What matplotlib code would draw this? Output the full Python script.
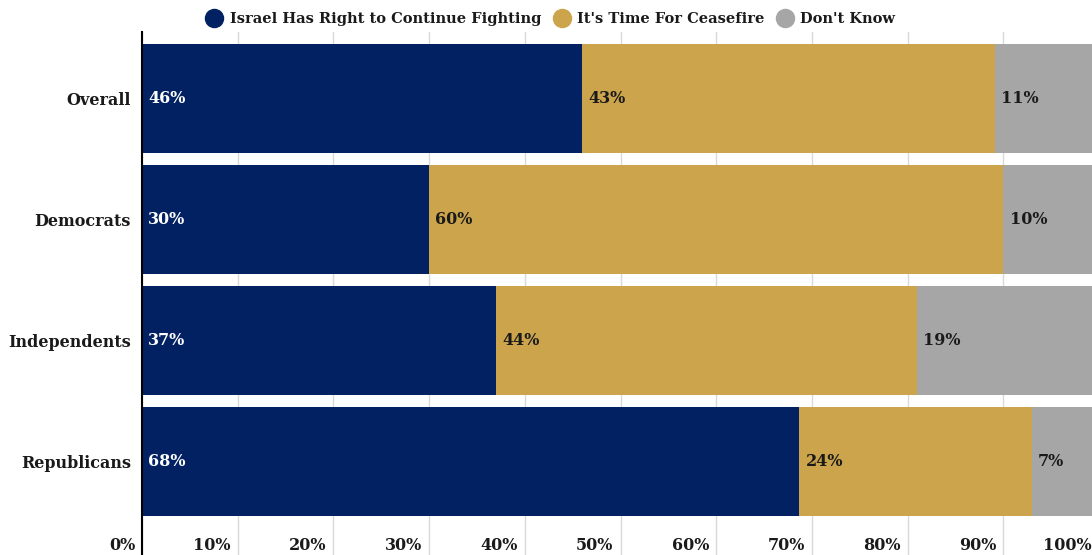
import matplotlib.pyplot as plt
from matplotlib.lines import Line2D
from matplotlib import transforms

groups = ['Overall', 'Democrats', 'Independents', 'Republicans']
series = ['Israel Has Right to Continue Fighting', "It's Time For Ceasefire", "Don't Know"]
fighting = [46, 30, 37, 68.7]
ceasefire = [43.1, 60, 44, 24.3]
dont_know = [10.9, 10, 19, 7.0]
fighting_lbl = ['46%', '30%', '37%', '68%']
ceasefire_lbl = ['43%', '60%', '44%', '24%']
dont_know_lbl = ['11%', '10%', '19%', '7%']
xticks = [0, 10, 20, 30, 40, 50, 60, 70, 80, 90, 100]

colors = ['#022163', '#CBA44B', '#A6A6A6']
text_colors = ['white', '#1a1a1a', '#1a1a1a']

plt.rcParams['font.family'] = ['DejaVu Serif']
plt.rcParams['font.weight'] = 'bold'

W, H = 1092, 555
fig = plt.figure(figsize=(W / 100, H / 100), dpi=100)
ax = fig.add_axes([142 / W, 0, (1099 - 142) / W, (H - 32) / H])

y = range(len(groups))
left = [0] * len(groups)
for vals, lbls, c, tc in zip([fighting, ceasefire, dont_know],
                             [fighting_lbl, ceasefire_lbl, dont_know_lbl],
                             colors, text_colors):
    ax.barh(y, vals, left=left, height=0.9, color=c, zorder=2)
    for i, (v, l) in enumerate(zip(vals, lbls)):
        ax.text(left[i] + 0.65, i, l, va='center', ha='left', color=tc,
                fontsize=11.5, fontweight='bold', zorder=3)
    left = [a + b for a, b in zip(left, vals)]

ax.set_xlim(0, 100)
ax.set_ylim(3.77, -0.545)
ax.set_yticks(list(y))
ax.set_yticklabels(groups, fontsize=11.5, fontweight='bold', color='#1a1a1a')
ax.tick_params(axis='y', length=0, pad=8)
ax.set_xticks(xticks)
ax.set_xticklabels([])
ax.tick_params(axis='x', length=0)
ax.grid(axis='x', color='#d9d9d9', linewidth=1, zorder=0)
for s in ['top', 'right', 'bottom']:
    ax.spines[s].set_visible(False)
ax.spines['left'].set_color('black')
ax.spines['left'].set_linewidth(1.5)
ax.spines['left'].set_zorder(4)

off = transforms.offset_copy(ax.get_xaxis_transform(), fig=fig, x=-7, y=1, units='dots')
for t in xticks:
    ax.text(t, 0, f'{t}%', transform=off, ha='right', va='bottom',
            fontsize=11.5, fontweight='bold', color='#1a1a1a', clip_on=False)

handles = [Line2D([], [], marker='o', linestyle='', markersize=13, color=c) for c in colors]
fig.legend(handles, series, loc='center', bbox_to_anchor=(0.504, 1 - 19 / H), ncol=3,
           frameon=False, prop={'size': 10.5, 'weight': 'bold'}, handletextpad=0.45,
           handlelength=1.2, columnspacing=0.8, labelcolor='#1a1a1a',
           borderpad=0, borderaxespad=0)

fig.savefig('out.png', dpi=100)
